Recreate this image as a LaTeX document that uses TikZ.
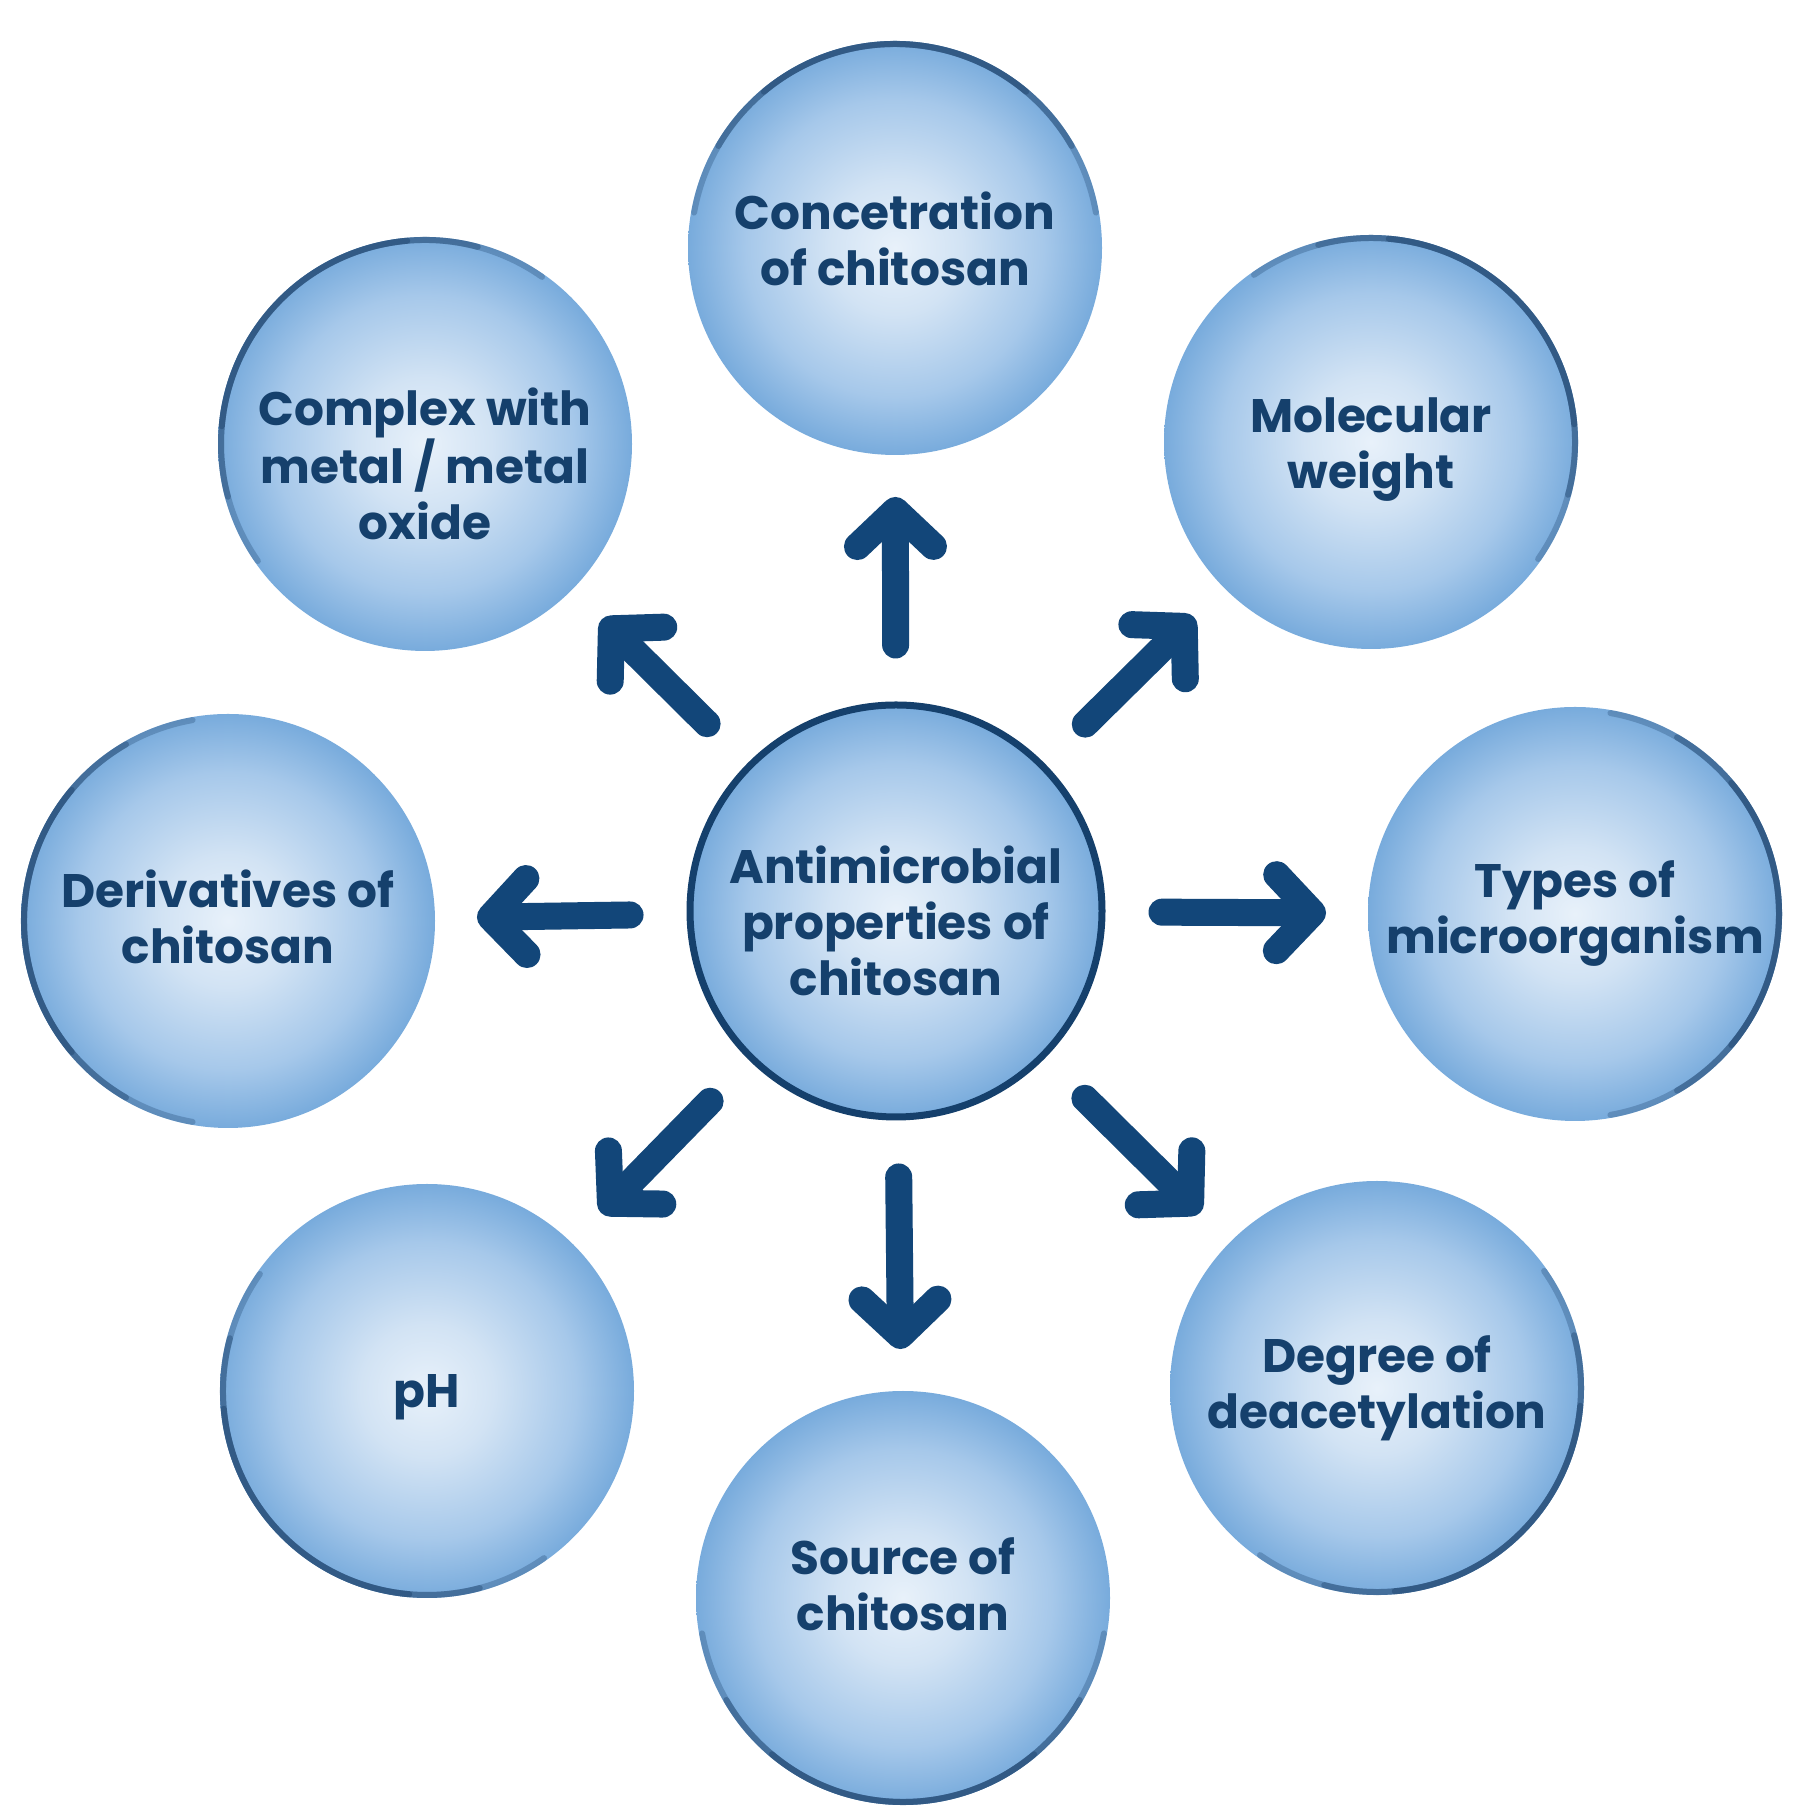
\documentclass[tikz,border=0pt]{standalone}
\usepackage{fontspec}
\setmainfont{Poppins}
\usetikzlibrary{arrows.meta,calc}
\definecolor{navy}{HTML}{15406C}
\definecolor{arrowblue}{HTML}{124679}
\definecolor{rimblue}{HTML}{2B527D}
\definecolor{bc0}{HTML}{E8F1FA}
\definecolor{bc1}{HTML}{D2E3F4}
\definecolor{bc2}{HTML}{A6C8EA}
\definecolor{bc3}{HTML}{78ABDC}
\pgfdeclareradialshading{bubble}{\pgfpoint{0bp}{0bp}}{color(0bp)=(bc0); color(8bp)=(bc1); color(18bp)=(bc2); color(25bp)=(bc3); color(50bp)=(bc3)}
\tikzset{
  bubblenode/.style={circle, shading=bubble, minimum size=414pt, inner sep=0pt, outer sep=0pt},
  hub/.style={bubblenode, draw=navy, line width=7pt, minimum size=412pt},
  txt/.style={align=center, text=navy, inner sep=0pt, font=\fontsize{47}{56}\selectfont\bfseries},
  rim/.style={draw=rimblue, line width=6pt, line cap=round},
  arr/.style={draw=arrowblue, line width=27pt, line cap=round,
     -{Straight Barb[length=36pt, width=76pt, round]},
     shorten <=60pt, shorten >=42pt}
}
\newcommand{\rimarc}[2]{% node, outward angle
  \foreach \s/\o in {80/0.35, 60/0.5, 40/0.7}{
    \draw[rim, opacity=\o] ($(#1.center)+({#2-\s}:204pt)$) arc[start angle={#2-\s}, end angle={#2+\s}, radius=204pt];
  }
}
\begin{document}
\begin{tikzpicture}[x=1pt,y=1pt]
\useasboundingbox (0,0) rectangle (1800,1806);
\fill[white] (0,0) rectangle (1800,1806);

\node[hub] (c) at (896,895) {};

\node[bubblenode] (t)  at (895,1558) {};
\node[bubblenode] (tr) at (1371,1364) {};
\node[bubblenode] (r)  at (1575,892) {};
\node[bubblenode] (br) at (1377,418) {};
\node[bubblenode] (b)  at (903,208) {};
\node[bubblenode] (bl) at (427,415) {};
\node[bubblenode] (l)  at (228,885) {};
\node[bubblenode] (tl) at (425,1362) {};

\rimarc{t}{90}
\rimarc{tr}{45}
\rimarc{r}{0}
\rimarc{br}{-45}
\rimarc{b}{-90}
\rimarc{bl}{-135}
\rimarc{l}{180}
\rimarc{tl}{135}

\node[txt] (c-txt)  at ([yshift=-10pt]c.center)  {Antimicrobial\\properties of\\chitosan};
\node[txt] (t-txt)  at ([yshift=9pt]t.center)    {Concetration\\of chitosan};
\node[txt] (tr-txt) at ([yshift=-8pt]tr.center)  {Molecular\\weight};
\node[txt] (r-txt)  at (r.center)                {Types of\\microorganism};
\node[txt] (br-txt) at (br.center)               {Degree of\\deacetylation};
\node[txt] (b-txt)  at ([yshift=14pt]b.center)   {Source of\\chitosan};
\node[txt] (bl-txt) at ([yshift=-6pt]bl.center)  {pH};
\node[txt] (l-txt)  at ([yshift=4pt]l.center)    {Derivatives of\\chitosan};
\node[txt] (tl-txt) at ([yshift=-20pt]tl.center) {Complex with\\metal / metal\\oxide};

\foreach \n in {t,tr,r,br,b,bl,l,tl}{
  \draw[arr] (c) -- (\n);
}
\end{tikzpicture}
\end{document}
